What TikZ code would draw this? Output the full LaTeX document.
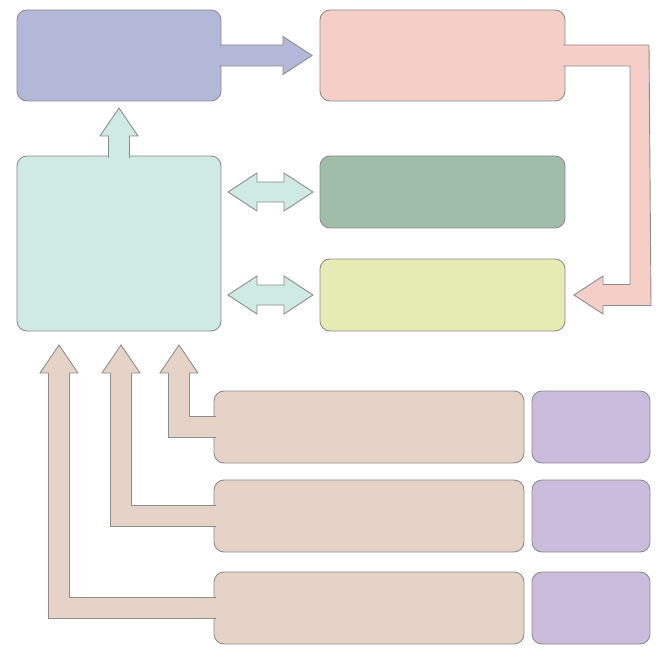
\documentclass[tikz,border=0pt]{standalone}
\usepackage{tikz}
\usetikzlibrary{positioning,calc}

\definecolor{edgegray}{RGB}{140,140,140}
\definecolor{inblue}{RGB}{179,184,217}
\definecolor{procpink}{RGB}{245,207,199}
\definecolor{coreteal}{RGB}{207,234,226}
\definecolor{storegreen}{RGB}{159,189,169}
\definecolor{outyellow}{RGB}{230,235,180}
\definecolor{srctan}{RGB}{230,211,200}
\definecolor{taglilac}{RGB}{203,188,222}

\begin{document}
\begin{tikzpicture}[
  x=1pt, y=-1pt,
  block/.style={rectangle, draw=edgegray, line width=0.9pt, rounded corners=10pt, minimum width=245pt, minimum height=72pt, inner sep=0pt, outer sep=0pt},
  fatarrow/.style={draw=edgegray, line width=0.9pt, line join=miter},
]
\useasboundingbox (0,0) rectangle (663,660);

\node[block, fill=inblue, minimum width=204pt, minimum height=91pt] at (119,55.5) (input) {};
\node[block, fill=procpink, minimum height=91pt, right=99pt of input] (process) {};
\node[block, fill=coreteal, minimum width=204pt, minimum height=175pt, below=55pt of input] (core) {};
\node[block, fill=storegreen, below=55pt of process] (store) {};
\node[block, fill=outyellow, below=31pt of store] (output) {};

\node[block, fill=srctan, minimum width=310pt] at (369,427) (srcA) {};
\node[block, fill=srctan, minimum width=310pt, below=17pt of srcA] (srcB) {};
\node[block, fill=srctan, minimum width=310pt, below=20pt of srcB] (srcC) {};
\node[block, fill=taglilac, minimum width=118pt, right=8pt of srcA] (tagA) {};
\node[block, fill=taglilac, minimum width=118pt, right=8pt of srcB] (tagB) {};
\node[block, fill=taglilac, minimum width=118pt, right=8pt of srcC] (tagC) {};

% input -> process
\draw[fatarrow, fill=inblue] ([shift={(-2,-10.5)}]input.east) -- ++(64,0) -- ++(0,-8.5)
  -- ([shift={(-8,0)}]process.west) -- ++(-29,19) -- ++(0,-8.5) -- ([shift={(-2,10.5)}]input.east);

% process -> output, round the right side
\draw[fatarrow, fill=procpink] ([shift={(-2,-10.5)}]process.east) -- ++(86,0)
  -- ($(output.east)+(86,10.5)$) -- ++(-48,0) -- ++(0,8.5) -- ([shift={(9,0)}]output.east)
  -- ++(29,-19) -- ++(0,8.5) -- ++(27,0) -- ($(process.east)+(65,10.5)$)
  -- ([shift={(-2,10.5)}]process.east);

% core -> input
\draw[fatarrow, fill=coreteal] ([shift={(-10.5,2)}]core.north) -- ++(0,-22) -- ++(-8.5,0)
  -- ([shift={(0,7)}]input.south) -- ++(19,28) -- ++(-8.5,0) -- ([shift={(10.5,2)}]core.north);

% core <-> store, core <-> output
\foreach \t in {store,output}
  \draw[fatarrow, fill=coreteal] ([shift={(-7,0)}]\t.west) -- ++(-29,-19) -- ++(0,9) -- ++(-27,0)
    -- ++(0,-9) -- ++(-29,19) -- ++(29,19) -- ++(0,-9) -- ++(27,0) -- ++(0,9) -- cycle;

% sources -> core
\foreach \s/\d in {srcA/60, srcB/2, srcC/-60} {
  \coordinate (tip) at ([shift={(\d,14)}]core.south);
  \draw[fatarrow, fill=srctan] ([shift={(2,-10.5)}]\s.west) -- ($(tip |- \s.west)+(10.5,-10.5)$)
    -- ($(tip)+(10.5,28)$) -- ++(8.5,0) -- (tip) -- ++(-19,28) -- ++(8.5,0)
    -- ($(tip |- \s.west)+(-10.5,10.5)$) -- ([shift={(2,10.5)}]\s.west);
}
\end{tikzpicture}
\end{document}
